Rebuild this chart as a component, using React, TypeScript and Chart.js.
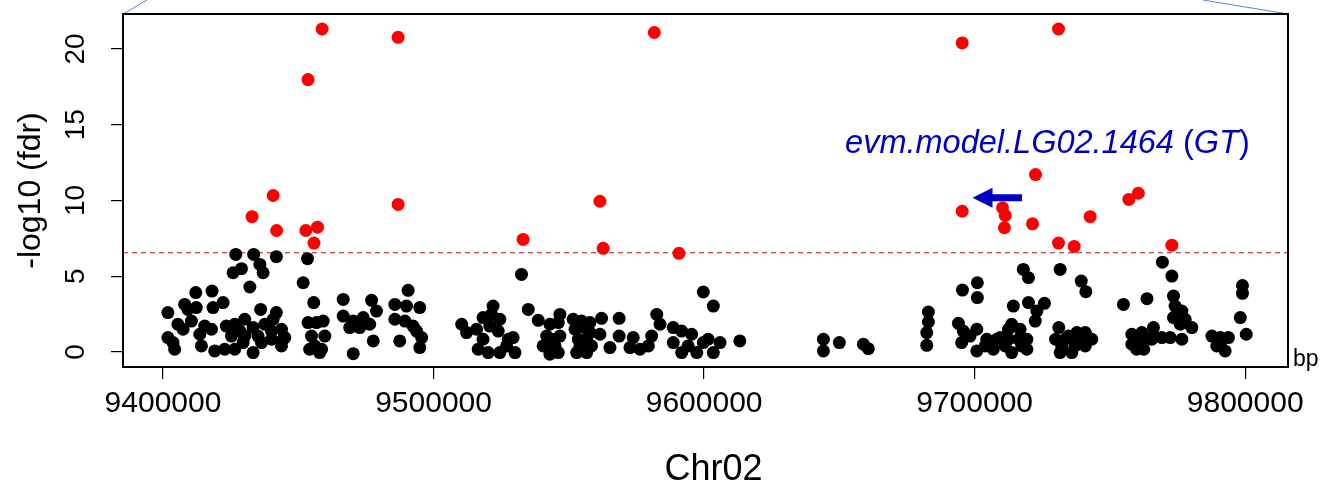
import React, { useEffect, useRef } from "react";
import { Chart, registerables } from "chart.js";

Chart.register(...registerables);

const FONT = '"Liberation Sans", Arial, Helvetica, sans-serif';

// Axis ranges and ticks
const xRange = [9385207, 9815828];
const yRange = [-0.99, 22.31];
const xTickValues = [9400000, 9500000, 9600000, 9700000, 9800000];
const yTickValues = [0, 5, 10, 15, 20];
const xAxisTitle = "Chr02";
const yAxisTitle = "-log10 (fdr)";
const unitLabel = "bp";
const threshold = 6.55;

// Non-significant SNPs (black)
const bgPos = [
  9426900, 9433500, 9435800, 9437000, 9441900, 9429000, 9425900, 9453400, 9432100, 9451800,
  9455700, 9412100, 9418100, 9422200, 9409200, 9412300, 9418500, 9401800, 9436100, 9441900,
  9405500, 9410500, 9415400, 9413600, 9417900, 9423400, 9426500, 9430200, 9428400, 9433300,
  9437600, 9440700, 9443800, 9401800, 9404300, 9403700, 9419100, 9422800, 9426500, 9429600,
  9433300, 9436400, 9440100, 9443800, 9445000, 9453600, 9456700, 9454900, 9456100, 9457900,
  9454200, 9407400, 9414200, 9425300, 9430200, 9440100, 9435100, 9444400, 9408000,
  9466600, 9477100, 9478900, 9490600, 9485700, 9490000, 9494900, 9466600, 9470300, 9474000,
  9476400, 9469000, 9472700, 9485700, 9489400, 9492400, 9493700, 9495600, 9477700, 9487500,
  9494900, 9470300, 9459200, 9459800, 9458600, 9510400, 9512200, 9515900, 9518300, 9522000,
  9521400, 9524500, 9520800, 9523900, 9518300, 9516500, 9520200, 9524500, 9527000, 9529400,
  9530100, 9527600, 9532500,
  9535000, 9538700, 9546700, 9543000, 9546100, 9541800, 9540500, 9543000, 9546700, 9546100,
  9554700, 9552300, 9555900, 9553500, 9556600, 9552900, 9556600, 9557800, 9562100, 9561500,
  9565200, 9568600, 9568600, 9573800, 9572600, 9576300, 9579400, 9580600, 9582500, 9583700,
  9588600, 9591700, 9595400, 9588600, 9591700, 9594100, 9597300, 9599700, 9601500, 9599700,
  9603400, 9605900, 9603400, 9613200, 9554100, 9558400, 9551600, 9557800, 9543600, 9544900,
  9644100, 9644100, 9650000, 9658900, 9660700, 9682900, 9682900, 9682300, 9682300, 9695500,
  9701000, 9701000, 9694000, 9695800, 9695200, 9700800, 9700800, 9698300, 9704500, 9706900,
  9703900, 9708200,
  9718000, 9719900, 9731600, 9739400, 9741100, 9714300, 9719900, 9725800, 9723000, 9722400,
  9713700, 9716800, 9709400, 9712500, 9716200, 9719300, 9713700, 9719300, 9731100, 9729900,
  9731600, 9734700, 9737800, 9740900, 9743300, 9737100, 9740900, 9755000, 9763700, 9758100,
  9758100, 9761800, 9766100, 9761800, 9765500, 9769200, 9772300, 9769400, 9772900, 9773500,
  9774100, 9773500, 9776600, 9777800, 9711300, 9717400, 9712500, 9733500, 9738400, 9732200,
  9735900, 9759900, 9763600, 9759900, 9766100,
  9777800, 9776000, 9780300, 9776600, 9762500, 9787700, 9790800, 9793800, 9789500, 9792600,
  9799000, 9799000, 9798200, 9800400, 9790800,
];
const bgLog = [
  6.44, 6.44, 5.78, 5.23, 6.29, 5.5, 5.23, 6.16, 4.29, 4.57,
  3.26, 3.92, 4.02, 3.26, 2.81, 2.93, 2.93, 2.6, 2.81, 2.6,
  1.83, 2.04, 1.71, 1.17, 1.5, 1.71, 1.83, 2.16, 1.38, 1.61,
  1.83, 2.16, 1.5, 0.95, 0.18, 0.62, 0.07, 0.18, 0.18, 0.62,
  -0.04, 0.62, 0.84, 0.4, 0.95, 1.94, 1.94, 1.05, 0.4, -0.04,
  0.18, 1.5, 0.4, 1.05, 1.05, 1.38, 1.05, 0.84, 3.14,
  3.47, 3.41, 2.7, 4.07, 3.14, 3.03, 2.93, 2.37, 2.04, 2.27,
  1.83, 1.61, 1.61, 2.16, 2.04, 1.71, 1.38, 0.95, 0.73, 0.73,
  0.29, -0.11, 2.04, 1.05, 0.18, 1.83, 1.28, 1.5, 2.27, 3.03,
  2.48, 2.16, 1.71, 1.38, 0.84, 0.18, -0.04, -0.04, 0.4, 0.95,
  -0.04, 0.84, 5.12,
  2.81, 2.09, 2.48, 1.83, 1.94, 1.05, 0.4, -0.15, 1.05, -0.04,
  2.04, 1.5, 1.61, 0.84, 0.84, -0.04, -0.04, 1.28, 2.22, 1.17,
  0.29, 2.22, 1.05, 0.95, 0.29, 0.18, 0.4, 1.05, 2.48, 1.83,
  1.61, 1.38, 1.17, 0.62, -0.04, 0.4, -0.04, 0.62, 0.84, 3.96,
  3.03, 0.62, -0.04, 0.73, 0.4, 0.4, 2.16, 1.94, 0.84, 0.4,
  0.84, 0.07, 0.62, 0.51, 0.22, 2.64, 1.98, 1.28, 0.44, 4.09,
  4.57, 3.59, 1.89, 1.38, 0.62, 1.5, 0.07, 1.05, 0.84, 0.18,
  0.4, 0.84,
  5.45, 4.9, 5.45, 4.68, 3.98, 3.03, 3.26, 3.21, 2.7, 2.04,
  1.83, 1.5, 0.95, 0.84, 0.84, 0.84, -0.04, 0.18, 1.61, 0.84,
  -0.04, 1.05, 1.28, 1.28, 0.84, 0.4, 0.4, 3.14, 3.52, 1.17,
  0.51, 1.28, 1.61, 0.4, 0.84, 0.95, 0.95, 5.93, 5.01, 3.69,
  3.03, 2.27, 2.7, 1.94, 0.4, 0.4, 1.5, 0.84, 0.84, 0.4,
  -0.04, 0.84, 0.84, 0.18, 1.05,
  2.16, 1.83, 1.61, 0.84, 0.18, 1.05, 0.95, 0.95, 0.4, 0.07,
  4.39, 3.87, 2.27, 1.17, 0.51,
];

// Significant SNPs (red)
const sigPos = [
  9458800, 9486900, 9453600, 9440700, 9486900, 9432900, 9442000, 9452800, 9457100, 9455800,
  9581600, 9561500, 9533100, 9562700, 9590700,
  9695400, 9722500, 9695400, 9710300, 9711300, 9711000, 9721400,
  9731000, 9757000, 9760500, 9742700, 9731000, 9736800, 9772900,
];
const sigLog = [
  21.32, 20.77, 17.98, 10.33, 9.74, 8.93, 8.02, 8.02, 8.24, 7.19,
  21.09, 9.95, 7.43, 6.84, 6.51,
  20.4, 11.71, 9.29, 9.52, 9.01, 8.2, 8.46,
  21.32, 10.07, 10.48, 8.93, 7.19, 6.97, 7.05,
];

// Gene annotation
const geneLabelParts: [string, boolean][] = [
  ["evm.model.LG02.1464", true],
  [" (", false],
  ["GT", true],
  [")", false],
];
const geneLabelPos = 9726900;
const geneLabelLog = 13.75;
const arrowFrom = [9717500, 10.18];
const arrowTo = [9699200, 10.18];

const BLUE = "#0000c4";

const overlayPlugin = {
  id: "overlay",
  afterDraw(chart: any) {
    const { ctx, chartArea: a, scales } = chart;
    const x = scales.x;
    const y = scales.y;
    ctx.save();
    // zoom connector lines
    ctx.strokeStyle = "#5a86d8";
    ctx.lineWidth = 1;
    ctx.beginPath();
    ctx.moveTo(a.left, a.top);
    ctx.lineTo(a.left + 24, 0);
    ctx.moveTo(a.right, a.top);
    ctx.lineTo(a.right - 85, 0);
    ctx.stroke();

    // box
    ctx.strokeStyle = "#000";
    ctx.lineWidth = 2;
    ctx.strokeRect(a.left, a.top, a.right - a.left, a.bottom - a.top);

    // y tick labels (rotated, R style)
    ctx.fillStyle = "#000";
    ctx.font = `28px ${FONT}`;
    ctx.textAlign = "center";
    ctx.textBaseline = "alphabetic";
    yTickValues.forEach((v) => {
      const py = y.getPixelForValue(v);
      ctx.save();
      ctx.translate(84, py);
      ctx.rotate(-Math.PI / 2);
      ctx.fillText(String(v), 0, 0);
      ctx.restore();
    });

    // y title
    ctx.font = `32px ${FONT}`;
    ctx.save();
    ctx.translate(40, (a.top + a.bottom) / 2);
    ctx.rotate(-Math.PI / 2);
    ctx.fillText(yAxisTitle, 0, 0);
    ctx.restore();

    // x title
    ctx.font = `36px ${FONT}`;
    ctx.fillText(xAxisTitle, (a.left + a.right) / 2 + 8, 480);

    // unit label
    ctx.font = `23px ${FONT}`;
    ctx.textAlign = "left";
    ctx.fillText(unitLabel, a.right + 5, a.bottom - 1);

    // gene label
    const parts = geneLabelParts.map(([t, it]) => {
      ctx.font = `${it ? "italic " : ""}32.5px ${FONT}`;
      return { t, it, w: ctx.measureText(t).width };
    });
    const total = parts.reduce((s, p) => s + p.w, 0);
    let cx = x.getPixelForValue(geneLabelPos) - total / 2;
    const cy = y.getPixelForValue(geneLabelLog);
    ctx.fillStyle = BLUE;
    ctx.textBaseline = "middle";
    parts.forEach((p) => {
      ctx.font = `${p.it ? "italic " : ""}32.5px ${FONT}`;
      ctx.fillText(p.t, cx, cy);
      cx += p.w;
    });

    // arrow
    const x0 = x.getPixelForValue(arrowFrom[0]);
    const y0 = y.getPixelForValue(arrowFrom[1]);
    const x1 = x.getPixelForValue(arrowTo[0]);
    const y1 = y.getPixelForValue(arrowTo[1]);
    ctx.strokeStyle = BLUE;
    ctx.lineWidth = 7;
    ctx.beginPath();
    ctx.moveTo(x0, y0);
    ctx.lineTo(x1 + 15, y1);
    ctx.stroke();
    ctx.beginPath();
    ctx.moveTo(x1, y1);
    ctx.lineTo(x1 + 20, y1 - 10);
    ctx.lineTo(x1 + 20, y1 + 10);
    ctx.closePath();
    ctx.fill();

    ctx.restore();
  },
};

export default function App() {
  const canvasRef = useRef<HTMLCanvasElement | null>(null);

  useEffect(() => {
    const canvas = canvasRef.current;
    if (!canvas) return;
    const chart = new Chart(canvas, {
      type: "scatter",
      data: {
        datasets: [
          {
            label: "significant",
            data: sigPos.map((p, i) => ({ x: p, y: sigLog[i] })),
            pointBackgroundColor: "#ff0000",
            pointBorderWidth: 0,
            pointRadius: 6.5,
            showLine: false,
          },
          {
            label: "other",
            data: bgPos.map((p, i) => ({ x: p, y: bgLog[i] })),
            pointBackgroundColor: "#000000",
            pointBorderWidth: 0,
            pointRadius: 6.5,
            showLine: false,
          },
          {
            type: "line",
            label: "threshold",
            data: [
              { x: xRange[0], y: threshold },
              { x: xRange[1], y: threshold },
            ],
            borderColor: "#b01010",
            borderWidth: 1,
            borderDash: [5, 4],
            pointRadius: 0,
          } as any,
        ],
      },
      options: {
        animation: false,
        responsive: false,
        events: [],
        layout: { padding: { left: 0, top: 14, right: 35, bottom: 0 } },
        plugins: { legend: { display: false }, tooltip: { enabled: false } },
        scales: {
          x: {
            type: "linear",
            min: xRange[0],
            max: xRange[1],
            afterBuildTicks: (s: any) => {
              s.ticks = xTickValues.map((v) => ({ value: v }));
            },
            afterFit: (s: any) => {
              s.height = 119;
            },
            border: { display: false },
            grid: {
              drawOnChartArea: false,
              drawTicks: true,
              tickLength: 12,
              color: "#000",
              lineWidth: 1.2,
            },
            ticks: {
              color: "#000",
              font: { family: FONT, size: 30 },
              padding: 7,
              maxRotation: 0,
              minRotation: 0,
              autoSkip: false,
              callback: (v: any) => String(v),
            },
          },
          y: {
            type: "linear",
            min: yRange[0],
            max: yRange[1],
            afterBuildTicks: (s: any) => {
              s.ticks = yTickValues.map((v) => ({ value: v }));
            },
            afterFit: (s: any) => {
              s.width = 123;
            },
            border: { display: false },
            grid: {
              drawOnChartArea: false,
              drawTicks: true,
              tickLength: 12,
              color: "#000",
              lineWidth: 1.2,
            },
            ticks: { display: false },
          },
        },
      },
      plugins: [overlayPlugin],
    });
    return () => chart.destroy();
  }, []);

  return (
    <div style={{ position: "absolute", left: 0, top: 0, width: 1323, height: 486, background: "#fff" }}>
      <canvas ref={canvasRef} width={1323} height={486} style={{ display: "block" }} />
    </div>
  );
}
